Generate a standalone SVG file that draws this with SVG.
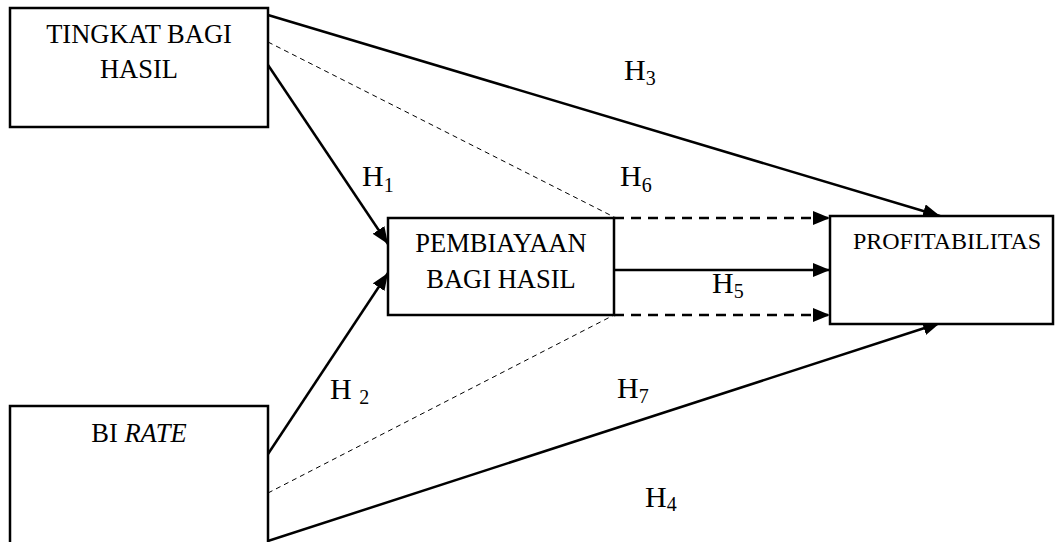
<svg xmlns="http://www.w3.org/2000/svg" width="1056" height="542" viewBox="0 0 1056 542">
  <style>
    .box { fill: #fff; stroke: #000; stroke-width: 2.5; }
    .lbl { font-family: "Liberation Serif", "Times New Roman", serif; font-size: 26.5px; fill: #000; text-anchor: middle; }
    .hyp { font-family: "Liberation Serif", "Times New Roman", serif; font-size: 30px; fill: #000; }
    .sub { font-size: 20px; }
    .solid { stroke: #000; stroke-width: 2.5; fill: none; }
    .dash { stroke: #000; stroke-width: 2.5; fill: none; stroke-dasharray: 10 7; }
    .thin { stroke: #000; stroke-width: 1; fill: none; stroke-dasharray: 5 4; }
  </style>
  <defs>
    <marker id="arrow" markerUnits="userSpaceOnUse" markerWidth="17" markerHeight="14" refX="17" refY="7" orient="auto">
      <path d="M0,0 L17,7 L0,14 z" fill="#000"/>
    </marker>
  </defs>
  <rect width="1056" height="542" fill="#fff"/>

  <g id="connectors">
    <line class="thin" x1="268" y1="42" x2="614" y2="217"/>
    <line class="thin" x1="268" y1="493" x2="614" y2="315"/>
    <line class="solid" x1="268" y1="15" x2="940" y2="216" marker-end="url(#arrow)"/>
    <line class="solid" x1="268" y1="65" x2="388" y2="244" marker-end="url(#arrow)"/>
    <line class="solid" x1="268" y1="454" x2="388" y2="273" marker-end="url(#arrow)"/>
    <line class="solid" x1="268" y1="541" x2="940" y2="323" marker-end="url(#arrow)"/>
    <line class="dash" x1="614" y1="218" x2="830" y2="218" marker-end="url(#arrow)"/>
    <line class="solid" x1="614" y1="270" x2="830" y2="270" marker-end="url(#arrow)"/>
    <line class="dash" x1="614" y1="315" x2="830" y2="315" marker-end="url(#arrow)"/>
  </g>

  <g id="tingkat-bagi-hasil">
    <rect class="box" x="10" y="8" width="258" height="119"/>
    <text class="lbl" x="139" y="43">TINGKAT BAGI</text>
    <text class="lbl" x="139" y="78">HASIL</text>
  </g>

  <g id="bi-rate">
    <rect class="box" x="10" y="406" width="258" height="150"/>
    <text class="lbl" x="139" y="442">BI <tspan font-style="italic">RATE</tspan></text>
  </g>

  <g id="pembiayaan-bagi-hasil">
    <rect class="box" x="388" y="218" width="226" height="97"/>
    <text class="lbl" x="501" y="252">PEMBIAYAAN</text>
    <text class="lbl" x="501" y="288">BAGI HASIL</text>
  </g>

  <g id="profitabilitas">
    <rect class="box" x="830" y="216" width="223" height="108"/>
    <text class="lbl" x="947" y="249" style="font-size:24px">PROFITABILITAS</text>
  </g>

  <g id="hypotheses">
    <text class="hyp" x="624" y="80">H<tspan class="sub" dy="5">3</tspan></text>
    <text class="hyp" x="362" y="186">H<tspan class="sub" dy="6">1</tspan></text>
    <text class="hyp" x="620" y="186">H<tspan class="sub" dy="6">6</tspan></text>
    <text class="hyp" x="712" y="293">H<tspan class="sub" dy="5">5</tspan></text>
    <text class="hyp" x="330" y="399">H <tspan class="sub" dy="5">2</tspan></text>
    <text class="hyp" x="617" y="398">H<tspan class="sub" dy="5">7</tspan></text>
    <text class="hyp" x="645" y="507">H<tspan class="sub" dy="4">4</tspan></text>
  </g>
</svg>
